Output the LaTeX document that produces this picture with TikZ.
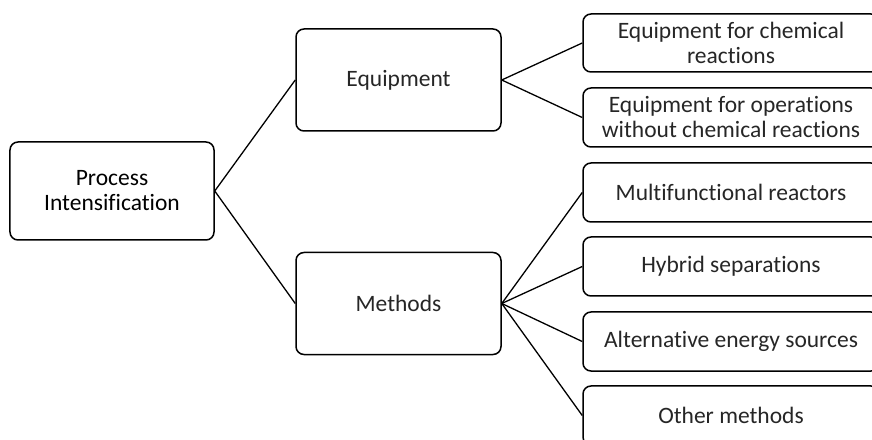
\documentclass[tikz,border=0pt]{standalone}
\usepackage{fontspec}
\setmainfont[Ligatures=NoCommon]{Carlito}
\begin{document}
\begin{tikzpicture}[x=1bp,y=-1bp,
  box/.style={draw=black, line width=1.5bp, rounded corners=8bp, align=center,
    inner sep=0pt, font=\fontsize{23.5bp}{25bp}\selectfont, text=black!85},
  link/.style={draw=black, line width=1.3bp}]
\useasboundingbox (0,0) rectangle (872,440);
\clip (0,0) rectangle (872,440);
\node[box, minimum width=204bp, minimum height=98bp, text=black] (pi) at (112,191) {Process\\Intensification};
\node[box, minimum width=205bp, minimum height=102bp] (eq) at (398.5,80) {Equipment};
\node[box, minimum width=205bp, minimum height=102bp] (me) at (398.5,303.5) {Methods};
\node[box, minimum width=296bp, minimum height=58bp] (r1) at (731,43) {Equipment for chemical\\reactions};
\node[box, minimum width=296bp, minimum height=59bp] (r2) at (731,117.5) {Equipment for operations\\without chemical reactions};
\node[box, minimum width=296bp, minimum height=59bp] (m1) at (731,192.5) {Multifunctional reactors};
\node[box, minimum width=296bp, minimum height=59bp] (m2) at (731,266.5) {Hybrid separations};
\node[box, minimum width=296bp, minimum height=59bp] (m3) at (731,341.5) {Alternative energy sources};
\node[box, minimum width=296bp, minimum height=59bp] (m4) at (731,415.5) {Other methods};
\draw[link] (pi.east) -- (eq.west);
\draw[link] (pi.east) -- (me.west);
\draw[link] (eq.east) -- (r1.west);
\draw[link] (eq.east) -- (r2.west);
\draw[link] (me.east) -- (m1.west);
\draw[link] (me.east) -- (m2.west);
\draw[link] (me.east) -- (m3.west);
\draw[link] (me.east) -- (m4.west);
\end{tikzpicture}
\end{document}
